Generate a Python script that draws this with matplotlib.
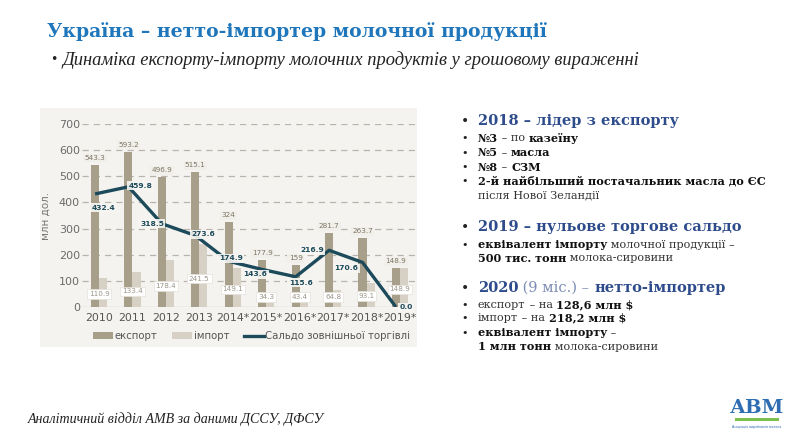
import matplotlib
matplotlib.use("Agg")
import matplotlib.pyplot as plt
from matplotlib.patches import Rectangle
from matplotlib.lines import Line2D
import numpy as np

# --- DATA ---
years = ["2010", "2011", "2012", "2013", "2014*", "2015*", "2016*", "2017*", "2018*", "2019*"]
export_vals = [543.3, 593.2, 496.9, 515.1, 324, 177.9, 159, 281.7, 263.7, 148.9]
import_vals = [110.9, 133.4, 178.4, 241.5, 149.1, 34.3, 43.4, 64.8, 93.1, 148.9]
balance_vals = [432.4, 459.8, 318.5, 273.6, 174.9, 143.6, 115.6, 216.9, 170.6, 0.0]
export_txt = ["543.3", "593.2", "496.9", "515.1", "324", "177.9", "159", "281.7", "263.7", "148.9"]
import_txt = ["110.9", "133.4", "178.4", "241.5", "149.1", "34.3", "43.4", "64.8", "93.1", "148.9"]
balance_txt = ["432.4", "459.8", "318.5", "273.6", "174.9", "143.6", "115.6", "216.9", "170.6", "0.0"]

# label offsets for the balance line, in pixels (dx, dy)
bal_offsets = [(9, -14), (12, 1), (-10, 0), (8, 1), (2, 3), (-7, -5), (5, -6), (-17, 0), (-16, -6), (10, 0)]

C_EXP = "#a89f8a"
C_IMP = "#d6d1c4"
C_LINE = "#1c4a5a"
C_BG = "#f4f3f0"
BLUE_T = "#1f76bb"
BLUE_H = "#2e4c8c"
SERIF = ["DejaVu Serif"]
W, H = 800, 446

fig = plt.figure(figsize=(8, 4.46), dpi=100)


def px(x, y):
    return x / W, 1 - y / H


# grey panel behind the chart
fig.patches.append(Rectangle(px(40, 347), 377 / W, 239 / H, transform=fig.transFigure,
                             facecolor=C_BG, edgecolor="none", zorder=-10))

ax = fig.add_axes([82 / W, 1 - 307 / H, 333 / W, 183 / H])
ax.set_facecolor("none")
x = np.arange(len(years))
bw = 0.24
ax.bar(x - bw / 2, export_vals, bw, color=C_EXP, zorder=2)
ax.bar(x + bw / 2, import_vals, bw, color=C_IMP, zorder=2)
ax.plot(x - bw / 2, balance_vals, color=C_LINE, lw=2.4, zorder=4, solid_capstyle="butt")

ax.set_xlim(-0.51, 9.45)
ax.set_ylim(0, 700)
ax.set_yticks(range(0, 701, 100))
ax.set_yticklabels([str(v) for v in range(0, 701, 100)], fontsize=8, color="#6b6b6b")
ax.set_xticks(x)
ax.set_xticklabels(years, fontsize=7.9, color="#555555")
ax.tick_params(length=0, pad=4)
ax.tick_params(axis="y", pad=1.5)
for v in range(100, 701, 100):
    ax.axhline(v, color="#b8b4ac", lw=0.9, ls=(0, (5, 4)), zorder=1)
ax.axhline(0, color="#b8b4ac", lw=0.9, zorder=1)
for s in ax.spines.values():
    s.set_visible(False)
ax.set_ylabel("млн дол.", fontsize=7.5, color="#777777")
ax.yaxis.set_label_coords(-0.093, 0.5)

for i in range(len(years)):
    ax.annotate(export_txt[i], (x[i] - bw / 2, export_vals[i]), xytext=(0, 7),
                textcoords="offset pixels", ha="center", va="center", fontsize=5.2,
                color="#7d7565", zorder=5,
                bbox=dict(boxstyle="square,pad=0.2", fc="#f1efea", ec="none"))
    ax.annotate(import_txt[i], (x[i], max(38, import_vals[i] * 0.45)), ha="center", va="center",
                fontsize=5.2, color="#9c968a", zorder=5,
                bbox=dict(boxstyle="square,pad=0.25", fc="white", ec="#e4e1da", lw=0.5))
    dx, dy = bal_offsets[i]
    ax.annotate(balance_txt[i], (x[i] - bw / 2, balance_vals[i]), xytext=(dx, dy),
                textcoords="offset pixels", ha="center", va="center", fontsize=5.4,
                fontweight="bold", color=C_LINE, zorder=6,
                bbox=dict(boxstyle="square,pad=0.2", fc="#f7f6f3", ec="none", alpha=0.9))

handles = [Rectangle((0, 0), 1, 1, fc=C_EXP), Rectangle((0, 0), 1, 1, fc=C_IMP),
           Line2D([0], [0], color=C_LINE, lw=2.4)]
ax.legend(handles, ["експорт", "імпорт", "Сальдо зовнішньої торгівлі"], ncol=3,
          loc="upper center", bbox_to_anchor=(0.51, -0.11), frameon=False, fontsize=7.3,
          labelcolor="#555555", handlelength=2.0, handleheight=0.6, handletextpad=0.15,
          columnspacing=1.4, borderaxespad=0)

# --- slide texts ---
fig.text(*px(47, 32), "Україна – нетто-імпортер молочної продукції", fontsize=13.6,
         fontweight="bold", color=BLUE_T, family=SERIF, va="center")
fig.text(*px(50, 59), "•", fontsize=9, color="#222222", va="center")
fig.text(*px(62, 60), "Динаміка експорту-імпорту молочних продуктів у грошовому вираженні",
         fontsize=13.3, style="italic", color="#222222", family=["Liberation Serif"], va="center")
fig.text(*px(28, 419), "Аналітичний відділ АМВ за даними ДССУ, ДФСУ", fontsize=10.1,
         style="italic", color="#222222", family=["Liberation Serif"], va="center")

# logo
fig.text(*px(757, 408), "АВМ", fontsize=14, fontweight="bold", color="#2f6db3",
         family=SERIF, ha="center", va="center")
fig.patches.append(Rectangle(px(735, 421), 44 / W, 3 / H, transform=fig.transFigure,
                             facecolor="#7cbf4a", edgecolor="none"))
fig.text(*px(757, 427), "Асоціація виробників молока", fontsize=2.3, color="#2f6db3",
         ha="center", va="center")

renderer = fig.canvas.get_renderer()


def rich(x0, y0, parts, size):
    xf, yf = px(x0, y0)
    for txt, weight, color in parts:
        t = fig.text(xf, yf, txt, fontsize=size, fontweight=weight, color=color,
                     family=SERIF, va="center")
        bb = t.get_window_extent(renderer=renderer)
        xf += bb.width / W


def bullet(y0, big=False):
    fig.text(*px(461, y0), "•", fontsize=10 if big else 8, color="#222222", va="center")


HS = 10.5
BS = 8.1
K = "#111111"
R = "#333333"

bullet(121, True)
rich(478, 121, [("2018 – лідер з експорту", "bold", BLUE_H)], HS)
bullet(138)
rich(478, 138, [("№3", "bold", K), (" – по ", "normal", R), ("казеїну", "bold", K)], BS)
bullet(153)
rich(478, 153, [("№5", "bold", K), (" – ", "normal", R), ("масла", "bold", K)], BS)
bullet(167)
rich(478, 167, [("№8", "bold", K), (" – ", "normal", R), ("СЗМ", "bold", K)], BS)
bullet(181)
rich(478, 181, [("2-й найбільший постачальник масла до ЄС", "bold", K)], BS)
rich(478, 195, [("після Нової Зеландії", "normal", R)], BS)

bullet(227, True)
rich(478, 227, [("2019 – нульове торгове сальдо", "bold", BLUE_H)], HS)
bullet(245)
rich(478, 245, [("еквівалент імпорту", "bold", K), (" молочної продукції –", "normal", R)], BS)
rich(478, 258, [("500 тис. тонн", "bold", K), (" молока-сировини", "normal", R)], BS)

bullet(288, True)
rich(478, 288, [("2020", "bold", BLUE_H), (" (9 міс.) – ", "normal", "#7d8db5"),
                ("нетто-імпортер", "bold", BLUE_H)], HS)
bullet(305)
rich(478, 305, [("експорт", "normal", R), (" – на ", "normal", R), ("128,6 млн $", "bold", K)], BS)
bullet(318)
rich(478, 318, [("імпорт", "normal", R), (" – на ", "normal", R), ("218,2 млн $", "bold", K)], BS)
bullet(333)
rich(478, 333, [("еквівалент імпорту", "bold", K), (" –", "normal", R)], BS)
rich(478, 347, [("1 млн тонн", "bold", K), (" молока-сировини", "normal", R)], BS)

fig.savefig("out.png", dpi=100)
